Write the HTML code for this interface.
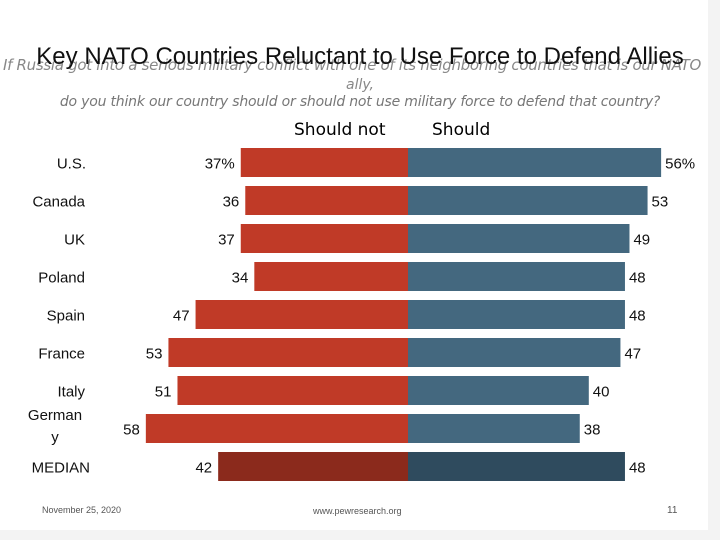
<!DOCTYPE html>
<html><head><meta charset="utf-8"><style>
body{margin:0;background:#fff;}
#wrap{position:relative;width:720px;height:540px;overflow:hidden;background:#fff;font-family:"Liberation Sans",sans-serif;}
.t{position:absolute;white-space:nowrap;}
</style></head><body>
<div id="wrap">
<div style="position:absolute;right:0;top:0;width:12px;height:540px;background:#f3f3f3"></div>
<div style="position:absolute;left:0;bottom:0;width:720px;height:10px;background:#f3f3f3"></div>
<div class="t" style="left:-8px;width:720px;top:56px;text-align:center;font-size:15px;font-style:italic;color:#888;font-family:'DejaVu Sans',sans-serif;letter-spacing:-0.3px">If Russia got into a serious military conflict with one of its neighboring countries that is our NATO</div>
<div class="t" style="left:0;width:720px;top:77px;text-align:center;font-size:14px;font-style:italic;color:#888;font-family:'DejaVu Sans',sans-serif">ally,</div>
<div class="t" style="left:0;width:720px;top:94px;text-align:center;font-size:14px;font-style:italic;color:#777;font-family:'DejaVu Sans',sans-serif;letter-spacing:-0.2px">do you think our country should or should not use military force to defend that country?</div>
<div class="t" style="left:0;width:720px;top:43px;text-align:center;font-size:24px;color:#111">Key NATO Countries Reluctant to Use Force to Defend Allies</div>
<div class="t" style="left:294px;top:120px;font-size:17px;font-family:'DejaVu Sans',sans-serif">Should not</div>
<div class="t" style="left:432px;top:120px;font-size:17px;font-family:'DejaVu Sans',sans-serif">Should</div>
<svg id="svg" width="720" height="540" style="position:absolute;left:0;top:0"></svg>
<div class="t" style="left:42px;top:505px;font-size:9px;color:#555">November 25, 2020</div>
<div class="t" style="left:313px;top:506px;font-size:9px;color:#555">www.pewresearch.org</div>
<div class="t" style="left:667px;top:505px;font-size:10px;color:#555">11</div>
</div>
<script>
const countries=["U.S.","Canada","UK","Poland","Spain","France","Italy","Germany","MEDIAN"];
const shouldNot=[37,36,37,34,47,53,51,58,42];
const should=[56,53,49,48,48,47,40,38,48];
const snLabels=["37%","36","37","34","47","53","51","58","42"];
const sLabels=["56%","53","49","48","48","47","40","38","48"];
const NS="http://www.w3.org/2000/svg";
const svg=document.getElementById('svg');
const cx=408,k=4.52,y0=148,step=38,bh=29;
function xs(v){return v*k;}
function yr(i){return y0+i*step;}
function mk(tag,a){const e=document.createElementNS(NS,tag);for(const n in a)e.setAttribute(n,a[n]);svg.appendChild(e);return e;}
countries.forEach((c,i)=>{
  const med=i===countries.length-1;
  const y=yr(i);
  const r=mk('rect',{x:cx-xs(shouldNot[i]),y:y,width:xs(shouldNot[i]),height:bh,fill:med?'#8b2a1c':'#c03a27'});
  
  
  const b=mk('rect',{x:cx,y:y,width:xs(should[i]),height:bh,fill:med?'#2f4b5e':'#44687f'});
  
  
  const t1=mk('text',{x:cx-xs(shouldNot[i])-6,y:y+bh/2+6,'text-anchor':'end','font-size':15,'font-family':'Liberation Sans',fill:'#111'});
  t1.textContent=snLabels[i];
  
  
  const t2=mk('text',{x:cx+xs(should[i])+4,y:y+bh/2+6,'font-size':15,'font-family':'Liberation Sans',fill:'#111'});
  t2.textContent=sLabels[i];
  
  
  if(c==="Germany"){
    ['German','y'].forEach((p,j)=>{const t=mk('text',{x:55,y:y+6+j*22,'text-anchor':'middle','font-size':15,'font-family':'Liberation Sans',fill:'#111'});t.textContent=p;
    
    });
  }else{
    const t=mk('text',{x:85,y:y+bh/2+6,'text-anchor':'end','font-size':15,'font-family':'Liberation Sans',fill:'#111'});
    t.textContent=c;
    
    
    if(c==="U.S."){t.setAttribute('x',86);}
    if(c==="MEDIAN"){t.setAttribute('x',90);}
  }
});
</script>
</body></html>
